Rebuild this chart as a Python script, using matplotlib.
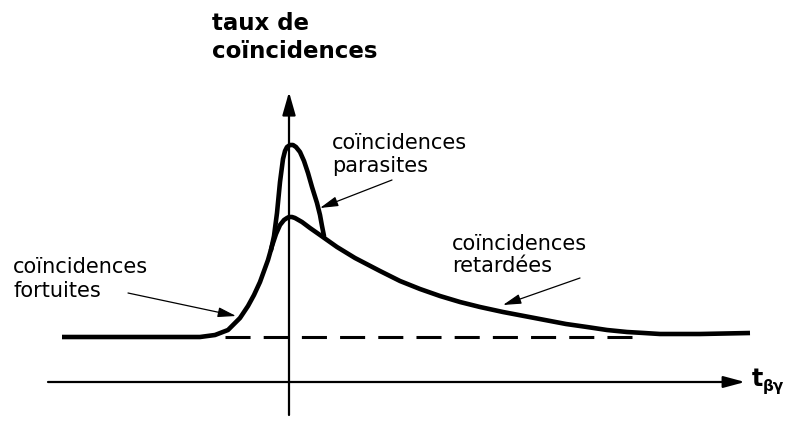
import matplotlib
matplotlib.use('Agg')
import matplotlib.pyplot as plt

plt.rcParams['font.family'] = ['DejaVu Sans']

# time (t_bg, arbitrary units, 0 at the prompt peak) and coincidence rate
broad_t = [-227, -89, -74, -61, -49, -41, -35, -29, -25, -21, -17, -13, -9, -5, -2, 0,
           3, 6, 13, 21, 31, 48, 66, 91, 111, 131, 151, 171, 191, 214, 235, 256, 277,
           298, 318, 338, 355, 371, 411, 461]
broad_r = [44, 44, 46, 51, 63, 75, 86, 99, 110, 121, 135, 147, 156, 161, 163, 164,
           164, 163, 159, 153, 146, 134, 123, 110, 100, 92, 85, 79, 74, 69, 65, 61, 57,
           54, 51, 49, 48, 47, 47, 48]

# narrow "parasites" peak on top of the broad curve
peak_t = [-18, -15, -12, -9, -6, -4, -2, 1, 4, 7, 11, 15, 19, 23, 28, 31, 33, 35]
peak_r = [131, 145, 168, 199, 222, 230, 234, 236, 236, 234, 229, 220, 208, 194, 178, 166, 155, 145]

# level of accidental (fortuitous) coincidences
accid_t = [-64, 356]
accid_r = [44, 44]

fig = plt.figure(figsize=(7.86, 4.25), dpi=100, facecolor='white')
ax = fig.add_axes([0, 0, 1, 1])
ax.set_xlim(-289, 497)
ax.set_ylim(-44, 381)
ax.axis('off')

# axes with arrows
ax.annotate('', xy=(456, -1), xytext=(-241, -1),
            arrowprops=dict(arrowstyle='-|>,head_length=1.3,head_width=0.35',
                            lw=1.6, color='black', shrinkA=0, shrinkB=0))
ax.annotate('', xy=(0, 289), xytext=(0, -34),
            arrowprops=dict(arrowstyle='-|>,head_length=1.4,head_width=0.4',
                            lw=1.6, color='black', shrinkA=0, shrinkB=0))

# curves
ax.plot(accid_t, accid_r, color='black', lw=2.2, dashes=(8.2, 4.3),
        solid_capstyle='butt', dash_capstyle='butt')
ax.plot(broad_t, broad_r, color='black', lw=3.3, solid_joinstyle='round',
        solid_capstyle='butt')
ax.plot(peak_t, peak_r, color='black', lw=3.3, solid_joinstyle='round',
        solid_capstyle='round')

# labels with arrows
arrow_kw = dict(arrowstyle='-|>,head_length=1.1,head_width=0.3',
                lw=0.9, color='black', shrinkA=0, shrinkB=0)
ax.annotate('', xy=(31, 173), xytext=(103, 201), arrowprops=arrow_kw)
ax.annotate('', xy=(-53, 65), xytext=(-161, 88), arrowprops=arrow_kw)
ax.annotate('', xy=(214, 76), xytext=(291, 103), arrowprops=arrow_kw)

fs = 15
ax.text(43, 232, 'coïncidences', fontsize=fs, va='baseline')
ax.text(43, 209, 'parasites', fontsize=fs, va='baseline')
ax.text(163, 131, 'coïncidences', fontsize=fs, va='baseline')
ax.text(163, 109, 'retardées', fontsize=fs, va='baseline')
ax.text(-276, 108, 'coïncidences', fontsize=fs, va='baseline')
ax.text(-276, 84, 'fortuites', fontsize=fs, va='baseline')

# axis titles
ax.text(-77, 351, 'taux de', fontsize=16.5, fontweight='bold', va='baseline')
ax.text(-77, 323, 'coïncidences', fontsize=16.5, fontweight='bold', va='baseline')
ax.text(463, -5, 't', fontsize=17, fontweight='bold', va='baseline')
ax.text(474, -10, 'βγ', fontsize=11, fontweight='bold', va='baseline')

fig.savefig('out.png', dpi=100, facecolor='white')
